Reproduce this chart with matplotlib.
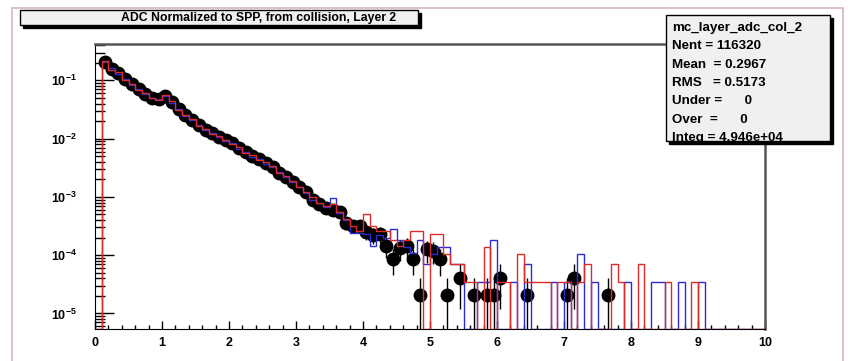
import numpy as np
import matplotlib
matplotlib.use("Agg")
import matplotlib.pyplot as plt
from matplotlib.patches import Rectangle
from matplotlib.ticker import MultipleLocator, LogLocator, FixedLocator, NullFormatter

plt.rcParams['font.family'] = ['Liberation Sans', 'DejaVu Sans']
plt.rcParams['font.weight'] = 'bold'
plt.rcParams['mathtext.fontset'] = 'custom'
plt.rcParams['mathtext.rm'] = 'Liberation Sans:bold'
plt.rcParams['mathtext.it'] = 'Liberation Sans:bold'
plt.rcParams['mathtext.bf'] = 'Liberation Sans:bold'

# bin edges: 100 bins of 0.1 from 0 to 10
edges = np.linspace(0, 10, 101)
centers = 0.5 * (edges[:-1] + edges[1:])

# common part of the spectrum, bins 0.0-3.0
head = [0, 0.209, 0.158, 0.132, 0.105, 0.085, 0.071, 0.058, 0.050, 0.047,
        0.054, 0.042, 0.032, 0.025, 0.021, 0.017, 0.0141, 0.0123, 0.0107, 0.0093,
        0.0083, 0.0068, 0.0058, 0.0050, 0.0044, 0.0038, 0.0033, 0.0026, 0.0022, 0.0018]

# collision data (black points), bins 3.0-10.0
data_tail = [1.5e-3, 1.2e-3, 8.9e-4, 7.6e-4, 6.5e-4, 6.0e-4, 5.4e-4, 3.6e-4, 3.2e-4, 3.2e-4,
             2.5e-4, 2.2e-4, 2.3e-4, 1.45e-4, 8.7e-5, 1.3e-4, 1.45e-4, 8.7e-5, 2.05e-5, 1.25e-4,
             1.2e-4, 8.5e-5, 2.05e-5, 0, 4.1e-5, 0, 2.05e-5, 0, 2.05e-5, 2.05e-5,
             4.1e-5, 0, 0, 0, 2.05e-5, 0, 0, 0, 0, 0,
             2.05e-5, 4.1e-5, 0, 0, 0, 0, 2.05e-5, 0, 0, 0,
             0, 0, 0, 0, 0, 0, 0, 0, 0, 0,
             0, 0, 0, 0, 0, 0, 0, 0, 0, 0]

# blue histogram, bins 3.0-10.0
blue_tail = [1.45e-3, 1.15e-3, 9.0e-4, 7.8e-4, 6.8e-4, 9.5e-4, 5.2e-4, 4.0e-4, 2.4e-4, 2.4e-4,
             2.3e-4, 1.45e-4, 2.2e-4, 2.0e-4, 2.8e-4, 1.8e-4, 1.4e-4, 1.1e-4, 1.8e-4, 7e-5,
             1.05e-4, 1.4e-4, 1.4e-4, 7e-5, 7e-5, 0, 0, 3.5e-5, 3.5e-5, 1.8e-4,
             0, 0, 3.5e-5, 0, 7e-5, 0, 0, 0, 3.5e-5, 0,
             3.5e-5, 0, 1.05e-4, 0, 3.5e-5, 0, 0, 0, 0, 3.5e-5,
             0, 0, 0, 3.5e-5, 3.5e-5, 0, 0, 3.5e-5, 0, 0,
             3.5e-5, 0, 0, 0, 0, 0, 0, 0, 0, 0]

# red histogram, bins 3.0-10.0
red_tail = [1.5e-3, 1.2e-3, 1.0e-3, 8.0e-4, 7.0e-4, 7.5e-4, 5.4e-4, 4.2e-4, 3.2e-4, 2.6e-4,
            5.1e-4, 3.2e-4, 2.6e-4, 2.6e-4, 1.8e-4, 1.45e-4, 1.8e-4, 2.6e-4, 2.6e-4, 0,
            2.3e-4, 2.3e-4, 1.05e-4, 7e-5, 7e-5, 3.5e-5, 3.5e-5, 0, 1.4e-4, 0,
            3.5e-5, 3.5e-5, 0, 1.05e-4, 3.5e-5, 3.5e-5, 3.5e-5, 3.5e-5, 0, 3.5e-5,
            3.5e-5, 0, 3.5e-5, 7e-5, 0, 0, 0, 7e-5, 3.5e-5, 0,
            0, 7e-5, 0, 0, 0, 3.5e-5, 0, 0, 0, 3.5e-5,
            0, 0, 0, 0, 0, 0, 0, 0, 0, 0]

# small wiggles of the two MC histograms in the common part
blue_head_scale = [1, 0.98, 1.01, 0.98, 1.01, 0.98, 1.01, 0.99, 0.98, 1.01,
                   0.99, 0.98, 1.01, 0.98, 0.98, 1.01, 0.98, 1.01, 0.98, 0.98,
                   1.01, 0.98, 1.01, 0.98, 1.01, 0.98, 0.97, 1.01, 0.98, 0.98]
red_head_scale = [1, 1.03, 0.97, 1.04, 0.98, 1.03, 0.97, 1.04, 1.0, 0.97,
                  1.02, 1.04, 0.97, 1.03, 1.04, 0.98, 1.03, 0.97, 1.04, 1.02,
                  0.98, 1.04, 0.97, 1.03, 0.98, 1.04, 1.02, 0.97, 1.03, 1.04]

data = np.array(head + data_tail)
blue = np.array(head + blue_tail) * np.array(blue_head_scale + [1] * 70)
red = np.array(head + red_tail) * np.array(red_head_scale + [1] * 70)
unit = 2.05e-5   # weight of a single entry

x_ticks = list(range(11))
y_ticks = [1e-5, 1e-4, 1e-3, 1e-2, 1e-1]
y_labels = [r'$10^{-5}$', r'$10^{-4}$', r'$10^{-3}$', r'$10^{-2}$', r'$10^{-1}$']

stats_lines = ["mc_layer_adc_col_2", "Nent = 116320", "Mean  = 0.2967",
               "RMS   = 0.5173", "Under =      0", "Over  =      0",
               "Integ = 4.946e+04"]
title = "ADC Normalized to SPP, from collision, Layer 2"

W, H = 848, 361
ymin, ymax = 5.4e-6, 0.42

fig = plt.figure(figsize=(W / 100, H / 100), dpi=100)
fig.patch.set_facecolor('white')


def fx(x):
    return x / W


def fy(y):
    return 1 - y / H


# pinkish canvas border
fig.add_artist(Rectangle((fx(12), fy(365)), fx(831), (365 - 8) / H,
                         transform=fig.transFigure, fill=False,
                         edgecolor='#dcb4b8', linewidth=1.2))

ax = fig.add_axes([fx(95), fy(329), fx(670), (329 - 44) / H])
ax.set_yscale('log')

# data points with error bars
m = data > 0
err = np.sqrt(data[m] * unit)
lo = np.where(data[m] - err > 0, err, data[m] - 1e-9)
ax.errorbar(centers[m], data[m], yerr=[lo, err], fmt='o', color='black',
            markersize=9, elinewidth=1.0, capsize=0, zorder=2)

# MC histograms, empty bins drawn along the frame bottom
ax.stairs(np.where(blue > 0, blue, ymin), edges, color='#2a2ad8',
          linewidth=1.0, baseline=None, zorder=3)
ax.stairs(np.where(red > 0, red, ymin), edges, color='#e02a2a',
          linewidth=1.0, baseline=None, zorder=4)

ax.set_xlim(0, 10)
ax.set_ylim(ymin, ymax)

ax.xaxis.set_major_locator(FixedLocator(x_ticks))
ax.xaxis.set_minor_locator(MultipleLocator(0.2))
ax.set_xticklabels([str(t) for t in x_ticks])
ax.yaxis.set_major_locator(FixedLocator(y_ticks))
ax.yaxis.set_minor_locator(LogLocator(base=10, subs=np.arange(2, 10)))
ax.yaxis.set_minor_formatter(NullFormatter())
ax.set_yticklabels(y_labels)

ax.tick_params(axis='x', which='major', direction='in', length=6, width=1,
               labelsize=9, pad=6, top=False)
ax.tick_params(axis='x', which='minor', direction='in', length=3, width=1, top=False)
ax.tick_params(axis='y', which='major', direction='in', length=14, width=1,
               labelsize=9, pad=13, right=False)
ax.tick_params(axis='y', which='minor', direction='in', length=7, width=1, right=False)
for lab in ax.get_xticklabels() + ax.get_yticklabels():
    lab.set_fontweight('bold')

ax.spines['left'].set_color('black')
ax.spines['bottom'].set_color('black')
ax.spines['top'].set_color('#555555')
ax.spines['right'].set_color('#555555')
ax.spines['top'].set_linewidth(1.8)
ax.spines['right'].set_linewidth(1.8)

# title box with shadow
fig.add_artist(Rectangle((fx(23), fy(28)), fx(398), 15 / H, transform=fig.transFigure,
                         facecolor='black', edgecolor='black', zorder=5))
fig.add_artist(Rectangle((fx(20), fy(25)), fx(398), 15 / H, transform=fig.transFigure,
                         facecolor='#f0f0f0', edgecolor='black', linewidth=1, zorder=6))
fig.text(fx(259), fy(17.5), title, ha='center', va='center', fontsize=8.8,
         fontweight='bold', zorder=7)

# statistics box with shadow
fig.add_artist(Rectangle((fx(669), fy(144)), fx(164), 126 / H, transform=fig.transFigure,
                         facecolor='black', edgecolor='black', zorder=5))
fig.add_artist(Rectangle((fx(666), fy(141)), fx(164), 126 / H, transform=fig.transFigure,
                         facecolor='#f0f0f0', edgecolor='black', linewidth=1, zorder=6))
for i, line in enumerate(stats_lines):
    fig.text(fx(672), fy(28 + i * 18.3), line, ha='left', va='center', fontsize=9.6,
             fontweight='bold', zorder=7)

plt.savefig("out.png", dpi=100)
